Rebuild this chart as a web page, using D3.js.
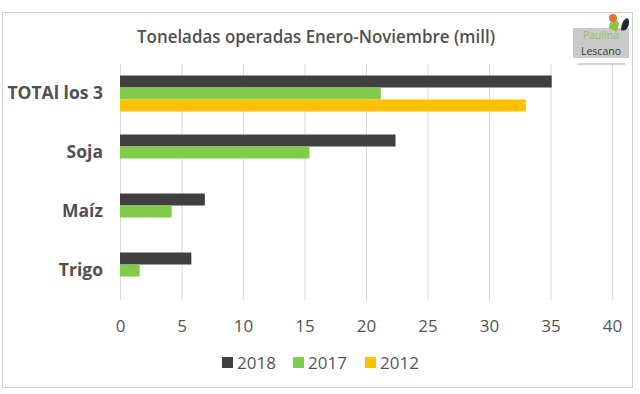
<!DOCTYPE html>
<html>
<head>
<meta charset="utf-8">
<script src="https://cdn.jsdelivr.net/npm/d3@7"></script>
<style>
  html, body { margin: 0; padding: 0; background: #fff; }
  svg { display: block; }
  text { font-family: "Open Sans", Lato, sans-serif; }
</style>
</head>
<body>
<svg width="640" height="394"></svg>
<script>
// data
var categories = ["TOTAl los 3", "Soja", "Maíz", "Trigo"];
var series = ["2018", "2017", "2012"];
var values2018 = [35.1, 22.4, 6.9, 5.8];
var values2017 = [21.2, 15.4, 4.2, 1.6];
var values2012 = [33.0, 0, 0, 0];
var xTicks = [0, 5, 10, 15, 20, 25, 30, 35, 40];

var colors = { "2018": "#404040", "2017": "#80cc4a", "2012": "#ffc000" };

var svg = d3.select("svg"),
    margin = { top: 64, right: 28, bottom: 94, left: 120 },
    width = +svg.attr("width") - margin.left - margin.right,
    height = +svg.attr("height") - margin.top - margin.bottom;

// chart frame
svg.append("rect")
    .attr("x", 2.5).attr("y", 12.5)
    .attr("width", 630).attr("height", 375)
    .attr("fill", "#fff")
    .attr("stroke", "#d0d0d0");

svg.append("text")
    .attr("x", 316).attr("y", 43)
    .attr("text-anchor", "middle")
    .attr("font-size", 17.5)
    .attr("font-weight", 600)
    .attr("fill", "#505050")
    .attr("textLength", 358)
    .attr("lengthAdjust", "spacingAndGlyphs")
    .text("Toneladas operadas Enero-Noviembre (mill)");

var g = svg.append("g").attr("transform", "translate(" + margin.left + "," + margin.top + ")");

var x = d3.scaleLinear().domain([0, 40]).range([0, width]);

var y0 = d3.scaleBand().domain(categories).range([0, height]);
var y1 = d3.scaleBand().domain(series).range([0, y0.bandwidth()])
    .paddingInner(0).paddingOuter(0.96);

// gridlines
g.append("g").attr("class", "grid")
  .selectAll("line")
  .data(xTicks)
  .enter().append("line")
    .attr("x1", function (d) { return x(d) + 0.5; })
    .attr("x2", function (d) { return x(d) + 0.5; })
    .attr("y1", 0)
    .attr("y2", height)
    .attr("stroke", "#d9d9d9");

var rows = categories.map(function (c, i) {
    return { cat: c, "2018": values2018[i], "2017": values2017[i], "2012": values2012[i] };
});

g.append("g").attr("class", "bars")
  .selectAll("g")
  .data(rows)
  .enter().append("g")
    .attr("transform", function (d) { return "translate(0," + y0(d.cat) + ")"; })
  .selectAll("rect")
  .data(function (d) {
      return series.filter(function (s) { return d[s] > 0; })
          .map(function (s) { return { key: s, value: d[s] }; });
  })
  .enter().append("rect")
    .attr("x", x(0))
    .attr("y", function (d) { return y1(d.key); })
    .attr("width", function (d) { return x(d.value) - x(0); })
    .attr("height", y1.bandwidth())
    .attr("fill", function (d) { return colors[d.key]; });

// x axis labels
var axisX = g.append("g")
    .attr("transform", "translate(0," + height + ")")
    .call(d3.axisBottom(x).tickValues(xTicks).tickSize(0).tickPadding(20));
axisX.select(".domain").remove();
axisX.selectAll("text")
    .attr("font-family", "'Open Sans', Lato, sans-serif")
    .attr("font-size", 17)
    .attr("font-weight", 500)
    .attr("fill", "#555");

// y axis labels
var axisY = g.append("g")
    .call(d3.axisLeft(y0).tickSize(0).tickPadding(17));
axisY.select(".domain").remove();
axisY.selectAll("text")
    .attr("font-family", "'Open Sans', Lato, sans-serif")
    .attr("font-size", 17.5)
    .attr("font-weight", "bold")
    .attr("fill", "#505050");

// legend
var legend = svg.append("g")
    .attr("transform", "translate(222,362)");
var legX = [0, 71, 143];
var item = legend.selectAll("g")
    .data(series)
    .enter().append("g")
    .attr("transform", function (d, i) { return "translate(" + legX[i] + ",0)"; });
item.append("rect")
    .attr("x", 0).attr("y", -5)
    .attr("width", 11).attr("height", 11)
    .attr("fill", function (d) { return colors[d]; });
item.append("text")
    .attr("x", 15).attr("y", 1)
    .attr("dy", "0.35em")
    .attr("font-size", 17)
    .attr("font-weight", 500)
    .attr("fill", "#555")
    .text(function (d) { return d; });

// logo, rough
var logo = svg.append("g").attr("transform", "translate(573,28)");
logo.append("rect").attr("width", 56).attr("height", 30).attr("fill", "#bdbdbd").attr("opacity", 0.8);
logo.append("path").attr("d", "M36,0 C36,-8 44,-12 46,-4 L44,4 Z").attr("fill", "#8cc63f");
logo.append("path").attr("d", "M48,2 C48,-8 56,-14 56,-6 C56,0 52,4 48,2 Z").attr("fill", "#1e2a30");
logo.append("circle").attr("cx", 40).attr("cy", -10).attr("r", 4).attr("fill", "#e2733c");
logo.append("text").attr("x", 28).attr("y", 11).attr("text-anchor", "middle")
    .attr("font-family", "'DejaVu Serif', serif").attr("font-size", 10.5).attr("fill", "#9cbf3c").text("Paulina");
logo.append("text").attr("x", 28).attr("y", 27).attr("text-anchor", "middle")
    .attr("font-family", "'DejaVu Serif', serif").attr("font-size", 10.5).attr("fill", "#3c3c3c").text("Lescano");
logo.append("line").attr("x1", 4).attr("x2", 52).attr("y1", 36).attr("y2", 36).attr("stroke", "#9a9a9a").attr("stroke-width", 0.8);
</script>
</body>
</html>
